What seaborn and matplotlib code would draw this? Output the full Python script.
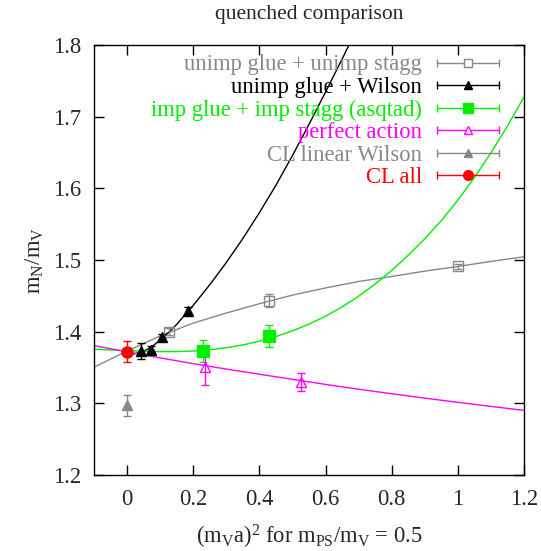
import matplotlib
matplotlib.use("Agg")
import matplotlib.pyplot as plt
import seaborn as sns
from matplotlib.lines import Line2D
from matplotlib.legend_handler import HandlerBase
from matplotlib.ticker import FuncFormatter

# --- measured points (x = (m_V a)^2, y = m_N/m_V, symmetric error) ---
unimp_stagg_x = [0.128, 0.43, 1.0]
unimp_stagg_y = [1.400, 1.443, 1.491]
unimp_stagg_err = [0.005, 0.009, 0.004]

wilson_x = [0.042, 0.073, 0.107, 0.183]
wilson_y = [1.373, 1.375, 1.392, 1.429]
wilson_err = [0.011, 0.005, 0.0046, 0.005]

asqtad_x = [0.23, 0.43]
asqtad_y = [1.373, 1.394]
asqtad_err = [0.015, 0.015]

perfect_x = [0.236, 0.525]
perfect_y = [1.351, 1.330]
perfect_err = [0.026, 0.013]

cl_wilson_x = [0.0]
cl_wilson_y = [1.297]
cl_wilson_err = [0.0145]

cl_all_x = [0.0]
cl_all_y = [1.372]
cl_all_err = [0.015]

# --- fit curves ---
fit_x = [-0.1, 0.0, 0.1, 0.2, 0.3, 0.4, 0.5, 0.6, 0.7, 0.8, 0.9, 1.0, 1.1, 1.2]
fit_unimp_stagg = [1.3504, 1.373, 1.394, 1.412, 1.426, 1.439, 1.451, 1.461, 1.470,
                   1.477, 1.4845, 1.491, 1.498, 1.5045]
fit_perfect = [1.3806, 1.3718, 1.3634, 1.3554, 1.3478, 1.3406, 1.3335, 1.3264,
               1.3197, 1.3134, 1.3073, 1.3014, 1.2957, 1.2902]

fit_asqtad_x = [-0.1, -0.05, 0.0, 0.05, 0.1, 0.15, 0.2, 0.25, 0.3, 0.35, 0.4,
                0.45, 0.5, 0.55, 0.6, 0.65, 0.7, 0.75, 0.8, 0.85, 0.9, 0.95,
                1.0, 1.05, 1.1, 1.15, 1.2]
fit_asqtad = [1.3755, 1.3745, 1.3735, 1.3727, 1.3722, 1.3722, 1.3730, 1.3748,
              1.3776, 1.3815, 1.3867, 1.3932, 1.4012, 1.4105, 1.4215, 1.4345,
              1.4495, 1.4665, 1.4855, 1.5065, 1.5295, 1.5550, 1.5835, 1.6150,
              1.6495, 1.6870, 1.7275]

fit_wilson_x = [0.0, 0.02, 0.04, 0.06, 0.08, 0.10, 0.125, 0.15, 0.2, 0.25, 0.3,
                0.35, 0.4, 0.45, 0.5, 0.55, 0.6, 0.65, 0.675]
fit_wilson = [1.372, 1.369, 1.371, 1.375, 1.381, 1.3882, 1.3987, 1.4102, 1.4367,
              1.4655, 1.4965, 1.530, 1.566, 1.6043, 1.6458, 1.6893, 1.7343,
              1.7803, 1.8038]

GREY = "#888888"
GREEN = "#00ee00"
MAGENTA = "#ff00ff"
RED = "#ff0000"

sns.set_theme(style="ticks")
plt.rcParams["font.family"] = ["Liberation Serif", "DejaVu Serif"]
plt.rcParams["mathtext.fontset"] = "custom"
plt.rcParams["mathtext.rm"] = "Liberation Serif"
plt.rcParams["mathtext.it"] = "Liberation Serif:italic"
plt.rcParams["xtick.direction"] = "in"
plt.rcParams["ytick.direction"] = "in"

FS = 16.3

fig = plt.figure(figsize=(5.41, 5.51), dpi=100)
ax = fig.add_axes([94 / 541, 1 - 475 / 551, 430 / 541, 430 / 551])

# fit curves
sns.lineplot(x=fit_x, y=fit_unimp_stagg, color=GREY, lw=1.0, ax=ax)
sns.lineplot(x=fit_wilson_x, y=fit_wilson, color="black", lw=1.0, ax=ax)
sns.lineplot(x=fit_asqtad_x, y=fit_asqtad, color=GREEN, lw=1.0, ax=ax)
sns.lineplot(x=fit_x, y=fit_perfect, color=MAGENTA, lw=1.0, ax=ax)

# data points with error bars
eb = dict(ls="none", capsize=3, elinewidth=1.0, capthick=1.0, zorder=5)
ax.errorbar(unimp_stagg_x, unimp_stagg_y, yerr=unimp_stagg_err, marker="s", ms=7,
            mfc="none", mec=GREY, mew=1.0, color=GREY, **eb)
ax.errorbar(wilson_x, wilson_y, yerr=wilson_err, marker="^", ms=6.5,
            color="black", **eb)
ax.errorbar(asqtad_x, asqtad_y, yerr=asqtad_err, marker="s", ms=8,
            color=GREEN, **eb)
ax.errorbar(perfect_x, perfect_y, yerr=perfect_err, marker="^", ms=7.5,
            mfc="none", mec=MAGENTA, mew=1.0, color=MAGENTA, **eb)
ax.errorbar(cl_wilson_x, cl_wilson_y, yerr=cl_wilson_err, marker="^", ms=7,
            color=GREY, **eb)
ax.errorbar(cl_all_x, cl_all_y, yerr=cl_all_err, marker="o", ms=8,
            color=RED, **eb)

ax.set_xlim(-0.1, 1.2)
ax.set_ylim(1.2, 1.8)
ax.set_xticks([0, 0.2, 0.4, 0.6, 0.8, 1.0, 1.2])
ax.set_yticks([1.2, 1.3, 1.4, 1.5, 1.6, 1.7, 1.8])
ax.xaxis.set_major_formatter(FuncFormatter(lambda v, p: f"{v:g}"))
ax.yaxis.set_major_formatter(FuncFormatter(lambda v, p: f"{v:.1f}"))
ax.tick_params(axis="both", which="major", length=7, width=1.0, labelsize=FS,
               top=True, right=True, color="black")
ax.tick_params(axis="x", pad=10)
ax.tick_params(axis="y", pad=9)
for s in ax.spines.values():
    s.set_linewidth(1.0)
    s.set_color("black")

ax.set_title("quenched comparison", fontsize=15.5, pad=19)
ax.set_xlabel(r"$\mathregular{(m_Va)^2}$ for $\mathregular{m_{PS}/m_V}$ = 0.5",
              fontsize=FS, labelpad=9)
ax.set_ylabel(r"$\mathregular{m_N/m_V}$", fontsize=FS, labelpad=5)


class GnuplotKey(HandlerBase):
    def create_artists(self, legend, orig_handle, xdescent, ydescent, width,
                       height, fontsize, trans):
        x0, x1 = -xdescent, width - xdescent
        y = height / 2 - ydescent
        c = orig_handle.get_color()
        mfc = orig_handle.get_markerfacecolor()
        if mfc == "none":
            mfc = "white"
        bar = Line2D([x0, x1], [y, y], color=c, lw=1.0, transform=trans)
        caps = Line2D([x0, x1], [y, y], ls="none", marker="|", ms=6, mew=1.0,
                      color=c, transform=trans)
        mark = Line2D([(x0 + x1) / 2], [y], ls="none",
                      marker=orig_handle.get_marker(),
                      ms=orig_handle.get_markersize(), mfc=mfc, mec=c,
                      mew=1.0, transform=trans)
        return [bar, caps, mark]


labels = ["unimp glue + unimp stagg", "unimp glue + Wilson",
          "imp glue + imp stagg (asqtad)", "perfect action",
          "CL linear Wilson", "CL all"]
handles = [
    Line2D([], [], color=GREY, marker="s", ms=6, mfc="none"),
    Line2D([], [], color="black", marker="^", ms=5.5, mfc="black"),
    Line2D([], [], color=GREEN, marker="s", ms=7, mfc=GREEN),
    Line2D([], [], color=MAGENTA, marker="^", ms=6, mfc="none"),
    Line2D([], [], color=GREY, marker="^", ms=5.5, mfc=GREY),
    Line2D([], [], color=RED, marker="o", ms=7, mfc=RED),
]
label_colors = [GREY, "black", GREEN, MAGENTA, GREY, RED]
ax.legend(handles, labels, handler_map={Line2D: GnuplotKey()},
          loc="upper right", bbox_to_anchor=(0.942, 0.978), frameon=False,
          markerfirst=False, fontsize=FS, labelcolor=label_colors,
          handlelength=2.75, handletextpad=0.65, labelspacing=0.065,
          borderpad=0, borderaxespad=0)

fig.savefig("out.png", dpi=100)
